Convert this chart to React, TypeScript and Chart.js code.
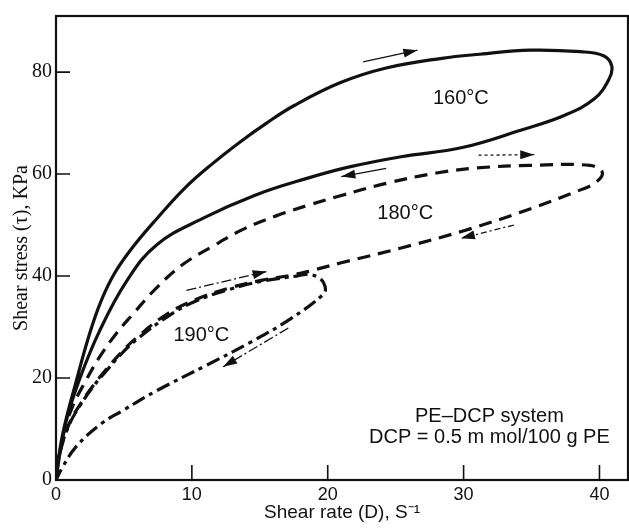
import React, { useEffect, useRef } from "react";
import { Chart, registerables } from "chart.js";

Chart.register(...registerables);

// ---- axis ticks ----
const X_TICKS = [0, 10, 20, 30, 40];
const Y_TICKS = [0, 20, 40, 60, 80];
const X_MAX = 42.1;
const Y_MAX = 91;

// ---- 160 °C loop (solid) ----
const C160_X = [0, 0.5, 1.5, 2.46, 3.3, 4.3, 5.6, 7.4, 9.5, 11.5, 13.6, 15.5, 17.5, 20.9, 24.3, 28.4, 31.2, 34.9, 38.6, 40.3, 40.9, 40.7, 39.6, 37.4, 34.2, 29.9, 25.4, 21.6, 18.4, 14.7, 10.8, 7.4, 5.2, 3.2, 1.7, 0.7, 0];
const C160_Y = [0.5, 9.1, 19.5, 28.6, 35.0, 40.5, 45.5, 51.2, 57.3, 62.0, 66.4, 70.0, 73.4, 77.9, 80.8, 82.7, 83.5, 84.3, 84.0, 83.2, 81.2, 78.6, 74.7, 71.5, 68.6, 65.2, 63.4, 61.4, 59.1, 55.9, 51.3, 46.1, 39.0, 29.2, 19.5, 11.0, 0.5];

// ---- 180 °C loop (dashed) ----
const C180_X = [0, 0.5, 1.2, 2.2, 3.2, 4.4, 5.65, 7.4, 9.3, 11.5, 13.8, 16.2, 18.7, 21.0, 24.5, 28.0, 31.0, 34.9, 39.3, 40.2, 39.8, 38.7, 34.3, 29.9, 25.4, 21.0, 18.7, 17.4, 15.2, 12.8, 10.3, 8.2, 6.1, 4.9, 3.7, 2.7, 1.7, 1.0, 0.3, 0];
const C180_Y = [0.5, 8.4, 14.3, 19.5, 24.1, 28.6, 32.5, 37.7, 42.2, 45.8, 49.2, 51.8, 54.0, 55.8, 58.3, 60.2, 61.2, 61.7, 61.7, 60.4, 58.5, 57.0, 52.6, 48.8, 45.5, 42.6, 41.0, 40.2, 39.2, 37.7, 35.4, 32.6, 28.3, 25.3, 21.7, 18.4, 14.5, 11.2, 5.4, 0.5];

// ---- 190 °C loop (dash-dot) ----
const C190_X = [0, 0.25, 1.0, 1.7, 2.7, 3.7, 4.9, 6.1, 8.3, 10.3, 12.8, 15.2, 17.7, 18.5, 19.4, 19.8, 19.7, 17.2, 14.3, 11.0, 7.4, 4.9, 3.3, 1.5, 0.5, 0];
const C190_Y = [0.5, 5.2, 11.0, 14.3, 18.2, 21.4, 25.0, 27.9, 32.2, 35.1, 37.4, 39.0, 40.0, 40.3, 39.6, 38.0, 36.5, 31.5, 27.0, 22.4, 17.5, 13.6, 11.0, 6.6, 2.6, 0];

// ---- direction arrows (tail -> head) ----
const A160_UP_X = [22.6, 26.6];
const A160_UP_Y = [82.0, 84.3];
const A160_DN_X = [24.3, 21.0];
const A160_DN_Y = [61.1, 59.5];
const A180_UP_X = [31.1, 35.2];
const A180_UP_Y = [63.7, 63.8];
const A180_DN_X = [33.7, 29.8];
const A180_DN_Y = [50.0, 47.4];
const A190_UP_X = [9.6, 15.5];
const A190_UP_Y = [37.2, 40.9];
const A190_DN_X = [17.1, 12.3];
const A190_DN_Y = [29.8, 22.2];

// ---- text labels ----
const CURVE_LABELS = ["160°C", "180°C", "190°C"];
const CURVE_LABEL_X = [29.8, 25.7, 10.7];
const CURVE_LABEL_Y = [74.9, 52.2, 28.3];
const NOTE_LINES = ["PE–DCP system", "DCP = 0.5 m mol/100 g PE"];
const NOTE_X = [31.9, 31.9];
const NOTE_Y = [12.5, 8.3];

const X_TITLE = "Shear rate (D), S⁻¹";
const Y_TITLE = "Shear stress (τ), KPa";

const INK = "#111111";
const SANS = "'Liberation Sans', Arial, sans-serif";
const SERIF = "'Liberation Serif', 'Times New Roman', serif";

function pts(xs: number[], ys: number[]) {
  return xs.map((x, i) => ({ x, y: ys[i] }));
}

function curve(xs: number[], ys: number[], dash: number[]) {
  return {
    data: pts(xs, ys),
    showLine: true,
    borderColor: INK,
    borderWidth: 3.2,
    borderDash: dash,
    borderCapStyle: "butt",
    pointRadius: 0,
    tension: 0.4,
    fill: false,
  };
}

function arrow(xs: number[], ys: number[], dash: number[]) {
  return {
    data: pts(xs, ys),
    showLine: true,
    borderColor: INK,
    borderWidth: 1.3,
    borderDash: dash,
    pointRadius: 0,
    tension: 0,
    fill: false,
    arrow: true,
  };
}

const decorPlugin = {
  id: "decor",
  afterDatasetsDraw(chart: any) {
    const { ctx, chartArea: a, scales } = chart;
    const sx = scales.x;
    const sy = scales.y;
    ctx.save();
    ctx.strokeStyle = INK;
    ctx.fillStyle = INK;
    ctx.setLineDash([]);
    // frame
    ctx.lineWidth = 2.2;
    ctx.strokeRect(a.left, a.top, a.right - a.left, a.bottom - a.top);
    // inward tick marks
    ctx.lineWidth = 1.6;
    ctx.beginPath();
    for (const v of X_TICKS) {
      if (v === 0) continue;
      const px = sx.getPixelForValue(v);
      ctx.moveTo(px, a.bottom);
      ctx.lineTo(px, a.bottom - 15);
    }
    for (const v of Y_TICKS) {
      if (v === 0) continue;
      const py = sy.getPixelForValue(v);
      ctx.moveTo(a.left, py);
      ctx.lineTo(a.left + 14, py);
    }
    ctx.stroke();
    // arrow heads
    chart.data.datasets.forEach((ds: any, i: number) => {
      if (!ds.arrow) return;
      const meta = chart.getDatasetMeta(i);
      const p = meta.data;
      const p1 = p[p.length - 2];
      const p2 = p[p.length - 1];
      const ang = Math.atan2(p2.y - p1.y, p2.x - p1.x);
      const L = 14;
      const W = 4.5;
      const c = Math.cos(ang);
      const s = Math.sin(ang);
      const bx = p2.x - L * c;
      const by = p2.y - L * s;
      ctx.beginPath();
      ctx.moveTo(p2.x, p2.y);
      ctx.lineTo(bx + W * s, by - W * c);
      ctx.lineTo(bx - W * s, by + W * c);
      ctx.closePath();
      ctx.fill();
    });
    // labels
    ctx.textAlign = "center";
    ctx.textBaseline = "middle";
    ctx.font = `20px ${SANS}`;
    CURVE_LABELS.forEach((t, i) => {
      ctx.fillText(t, sx.getPixelForValue(CURVE_LABEL_X[i]), sy.getPixelForValue(CURVE_LABEL_Y[i]));
    });
    NOTE_LINES.forEach((t, i) => {
      ctx.fillText(t, sx.getPixelForValue(NOTE_X[i]), sy.getPixelForValue(NOTE_Y[i]));
    });
    ctx.restore();
  },
};

export default function App() {
  const ref = useRef<HTMLCanvasElement | null>(null);

  useEffect(() => {
    if (!ref.current) return;
    const DASH = [13, 8];
    const DASHDOT = [14, 5, 4, 5];
    const chart = new Chart(ref.current, {
      type: "scatter",
      data: {
        datasets: [
          curve(C160_X, C160_Y, []),
          curve(C180_X, C180_Y, DASH),
          curve(C190_X, C190_Y, DASHDOT),
          arrow(A160_UP_X, A160_UP_Y, []),
          arrow(A160_DN_X, A160_DN_Y, []),
          arrow(A180_UP_X, A180_UP_Y, [3, 3]),
          arrow(A180_DN_X, A180_DN_Y, [6, 3, 2, 3]),
          arrow(A190_UP_X, A190_UP_Y, [10, 3, 2, 3]),
          arrow(A190_DN_X, A190_DN_Y, [10, 3, 2, 3]),
        ] as any,
      },
      options: {
        responsive: false,
        animation: false,
        devicePixelRatio: 1,
        layout: { padding: { top: 13, right: 1, left: 0, bottom: 0 } },
        plugins: {
          legend: { display: false },
          tooltip: { enabled: false },
        },
        scales: {
          x: {
            type: "linear",
            min: 0,
            max: X_MAX,
            afterBuildTicks: (s: any) => {
              s.ticks = X_TICKS.map((v) => ({ value: v }));
            },
            afterFit: (s: any) => {
              s.height = 48;
            },
            ticks: {
              color: INK,
              font: { family: SANS, size: 18 },
              padding: 4,
              maxRotation: 0,
              callback: (v: any) => String(v),
            },
            grid: { display: false, drawTicks: false },
            border: { display: false },
            title: {
              display: true,
              text: X_TITLE,
              color: INK,
              font: { family: SANS, size: 19 },
              padding: { top: 0, bottom: 4 },
            },
          },
          y: {
            type: "linear",
            min: 0,
            max: Y_MAX,
            afterBuildTicks: (s: any) => {
              s.ticks = Y_TICKS.map((v) => ({ value: v }));
            },
            afterFit: (s: any) => {
              s.width = 56;
            },
            ticks: {
              color: INK,
              font: { family: SERIF, size: 20 },
              padding: 4,
              callback: (v: any) => String(v),
            },
            grid: { display: false, drawTicks: false },
            border: { display: false },
            title: {
              display: true,
              text: Y_TITLE,
              color: INK,
              font: { family: SERIF, size: 20 },
              padding: { top: 10, bottom: 0 },
            },
          },
        },
      } as any,
      plugins: [decorPlugin],
    });
    return () => chart.destroy();
  }, []);

  return (
    <div style={{ position: "absolute", left: 0, top: 0, width: 629, height: 528, background: "#fff" }}>
      <canvas ref={ref} width={629} height={528} style={{ display: "block", width: 629, height: 528 }} />
    </div>
  );
}
